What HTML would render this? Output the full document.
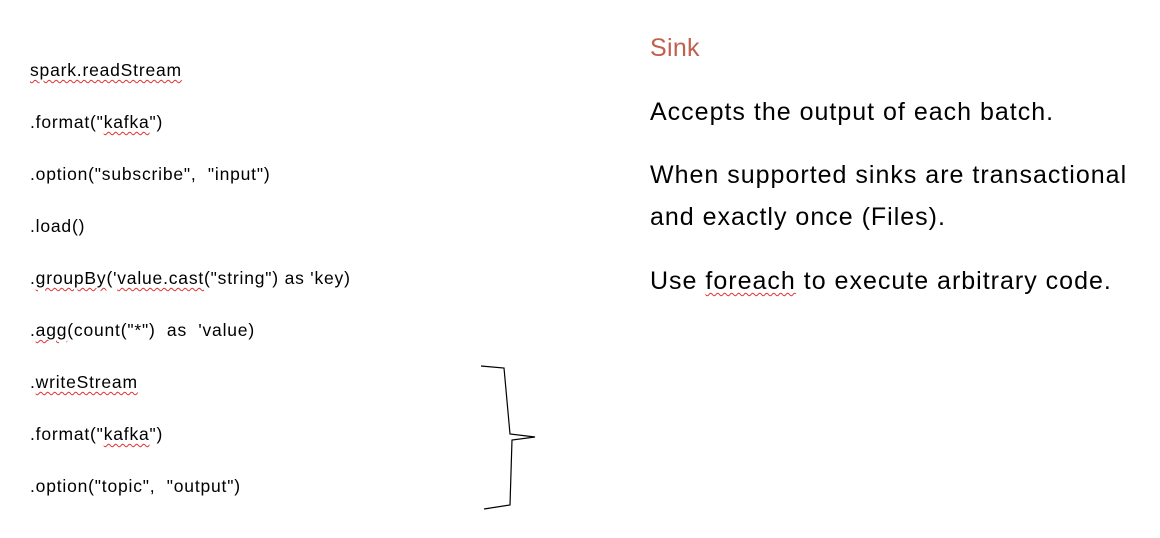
<!DOCTYPE html>
<html><head><meta charset="utf-8"><style>
body{margin:0;width:1160px;height:538px;background:#fff;position:relative;overflow:hidden;font-family:"Liberation Sans",sans-serif;color:#000}
.l{position:absolute;left:30px;font-size:17.5px;letter-spacing:0.8px;line-height:20px;white-space:pre}
.r{position:absolute;left:650px;font-size:25px;letter-spacing:1px;line-height:30px;white-space:pre}
.sq{text-decoration:underline wavy #e03030;text-decoration-thickness:1px;text-underline-offset:3px}
</style></head><body>
<div>
<div class="l" style="top:60px"><span class="sq">spark.readStream</span></div>
<div class="l" style="top:112px">.format("<span class="sq">kafka</span>")</div>
<div class="l" style="top:164px">.option("subscribe",  "input")</div>
<div class="l" style="top:216px">.load()</div>
<div class="l" style="top:268px">.<span class="sq">groupBy</span>('<span class="sq">value.cast</span>("string") as 'key)</div>
<div class="l" style="top:320px">.<span class="sq">agg</span>(count("*")  as  'value)</div>
<div class="l" style="top:372px">.<span class="sq">writeStream</span></div>
<div class="l" style="top:424px">.format("<span class="sq">kafka</span>")</div>
<div class="l" style="top:476px">.option("topic",  "output")</div>
</div>
<svg style="position:absolute;left:0;top:0" width="1160" height="538">
<path d="M481,366 L504,368 L510,434 L535,437 L512,440 L510,505 L484,509" fill="none" stroke="#000" stroke-width="1.2"/>
</svg>
<div class="r" style="top:33px;color:#c0604f;font-size:25px;letter-spacing:0.3px">Sink</div>
<div class="r" style="top:97px">Accepts the output of each batch.</div>
<div class="r" style="top:160px">When supported sinks are transactional</div>
<div class="r" style="top:202px">and exactly once (Files).</div>
<div class="r" style="top:266px">Use <span class="sq">foreach</span> to execute arbitrary code.</div>
</body></html>
